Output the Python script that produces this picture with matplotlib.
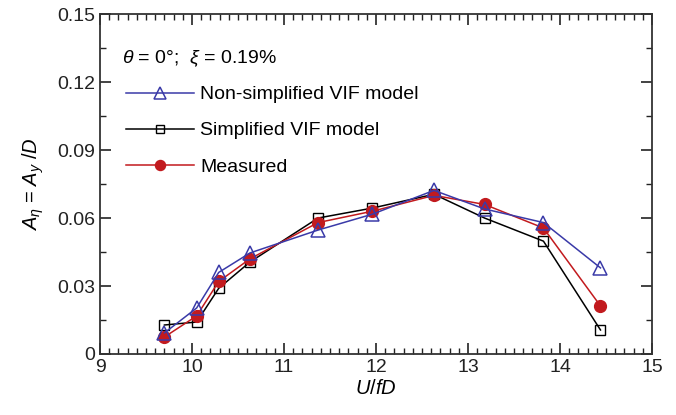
import matplotlib
matplotlib.use("Agg")
import matplotlib.pyplot as plt
from matplotlib.ticker import MultipleLocator

plt.rcParams['font.family'] = ['Liberation Sans', 'DejaVu Sans']
plt.rcParams['mathtext.fontset'] = 'custom'
plt.rcParams['mathtext.rm'] = 'Liberation Sans'
plt.rcParams['mathtext.it'] = 'Liberation Sans:italic'

x = [9.70, 10.05, 10.29, 10.63, 11.37, 11.96, 12.63, 13.18, 13.82, 14.44]
non_simplified = [0.0093, 0.0203, 0.036, 0.0446, 0.0547, 0.0617, 0.0722, 0.064, 0.058, 0.038]
simplified = [0.0128, 0.0141, 0.029, 0.0406, 0.060, 0.0644, 0.0705, 0.060, 0.0498, 0.0106]
measured = [0.0075, 0.0168, 0.032, 0.042, 0.058, 0.063, 0.070, 0.066, 0.0556, 0.0212]

fig = plt.figure(figsize=(6.76, 4.15), dpi=100)
ax = fig.add_axes([0.148, 0.147, 0.8165, 0.819])

blue = '#3a3aa8'
red = '#c21a1e'
ax.plot(x, non_simplified, color=blue, lw=1.1, marker='^', ms=10, mfc='none', mec=blue, mew=1.1,
        label='Non-simplified VIF model', zorder=3)
ax.plot(x, simplified, color='black', lw=1.1, marker='s', ms=7.5, mfc='none', mec='black', mew=1.0,
        label='Simplified VIF model', zorder=2)
ax.plot(x, measured, color=red, lw=1.1, marker='o', ms=8.5, mfc=red, mec=red,
        label='Measured', zorder=2.5)

ax.set_xlim(9, 15)
ax.set_ylim(0, 0.15)
ax.xaxis.set_major_locator(MultipleLocator(1))
ax.xaxis.set_minor_locator(MultipleLocator(0.1))
ax.yaxis.set_minor_locator(MultipleLocator(0.015))
ax.set_yticks([0, 0.03, 0.06, 0.09, 0.12, 0.15])
ax.set_yticklabels(['0', '0.03', '0.06', '0.09', '0.12', '0.15'])
ax.tick_params(which='both', direction='in', top=True, right=True, labelsize=14, colors='#222222')
ax.tick_params(which='major', length=8, width=1.2)
ax.tick_params(which='minor', length=4, width=1.0)
for s in ax.spines.values():
    s.set_linewidth(1.3)
    s.set_color('#333333')

ax.set_xlabel('$\\it{U/fD}$', fontsize=14.5, labelpad=2)
ax.set_ylabel('$A_\\eta$ = $A_y$ /$D$', fontsize=14.5, labelpad=8)

ax.text(0.04, 0.868, '$\\theta$ = 0°;  $\\xi$ = 0.19%', transform=ax.transAxes, fontsize=14,
        va='center', ha='left')
leg = ax.legend(loc='upper left', bbox_to_anchor=(0.033, 0.812), frameon=False, fontsize=14,
                handlelength=3.5, handletextpad=0.3, labelspacing=0.95, borderaxespad=0,
                markerscale=0.85)

fig.savefig('out.png', dpi=100)
